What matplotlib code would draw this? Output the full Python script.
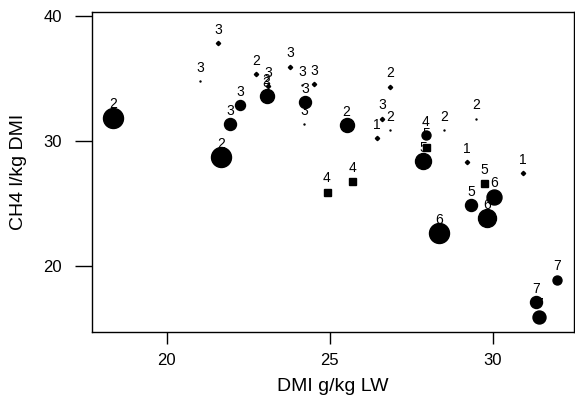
import matplotlib
matplotlib.use("Agg")
import matplotlib.pyplot as plt

plt.rcParams['font.family'] = ['Liberation Sans', 'DejaVu Sans']

# DMI (g/kg LW), CH4 (l/kg DMI), group label, marker diameter (px) and shape
dmi = [18.36, 21.67, 21.94, 22.26, 23.07, 23.05, 23.12, 24.24, 24.15, 24.21,
       21.57, 21.02, 22.74, 23.78, 24.52, 26.85, 25.52, 26.60, 26.85, 26.46,
       27.94, 27.97, 27.87, 28.51, 29.49, 29.20, 30.92, 24.91, 25.69, 29.74,
       29.33, 30.05, 29.82, 28.35, 31.98, 31.33, 31.41]
ch4 = [31.86, 28.68, 31.33, 32.84, 33.59, 33.80, 34.40, 33.11, 34.43, 31.33,
       37.78, 34.78, 35.31, 35.93, 34.51, 34.33, 31.25, 31.78, 30.88, 30.19,
       30.48, 29.47, 28.36, 30.88, 31.78, 28.33, 27.43, 25.94, 26.81, 26.63,
       24.88, 25.54, 23.82, 22.65, 18.92, 17.12, 15.93]
group = ['2', '2', '3', '3', '3', '2', '3', '3', '3', '3',
         '3', '3', '2', '3', '3', '2', '2', '3', '2', '1',
         '4', '5', '5', '2', '2', '1', '1', '4', '4', '5',
         '5', '6', '6', '6', '7', '7', '7']
diam = [20, 20, 12, 10, 14, 2, 4, 12, 2, 2,
        4, 2, 4, 4, 4, 4, 14, 4, 2, 4,
        9, 7, 16, 2, 2, 4, 4, 7, 7, 7,
        12, 15, 18, 20, 9, 12, 13]
shape = ['o', 'o', 'o', 'o', 'o', '.', 'D', 'o', '.', '.',
         'D', '.', 'D', 'D', 'D', 'D', 'o', 'D', '.', 'D',
         'o', 's', 'o', '.', '.', 'D', 'D', 's', 's', 's',
         'o', 'o', 'o', 'o', 'o', 'o', 'o']

fig = plt.figure(figsize=(5.75, 3.96), dpi=100)
ax = fig.add_axes([0.160, 0.162, 0.838, 0.807])

for x, y, g, d, m in zip(dmi, ch4, group, diam, shape):
    ms = d * 0.72
    if m == 'D':
        ms = d * 0.55
    ax.plot(x, y, marker=m, markersize=ms, color='black', linestyle='none', zorder=3)
    ax.annotate(g, (x, y), xytext=(0, 9.5), textcoords='offset points',
                ha='center', va='center', fontsize=10, zorder=2)

ax.set_xlim(17.71, 32.49)
ax.set_ylim(14.74, 40.27)
ax.set_xticks([20, 25, 30])
ax.set_yticks([20, 30, 40])
ax.tick_params(axis='x', length=8.5, width=1, labelsize=12, pad=7)
ax.tick_params(axis='y', length=12, width=1, labelsize=12, pad=9.5)
for s in ax.spines.values():
    s.set_linewidth(1)
ax.set_xlabel('DMI g/kg LW', fontsize=14, labelpad=7)
ax.set_ylabel('CH4 l/kg DMI', fontsize=14, labelpad=12)

fig.savefig('out.png', dpi=100)
